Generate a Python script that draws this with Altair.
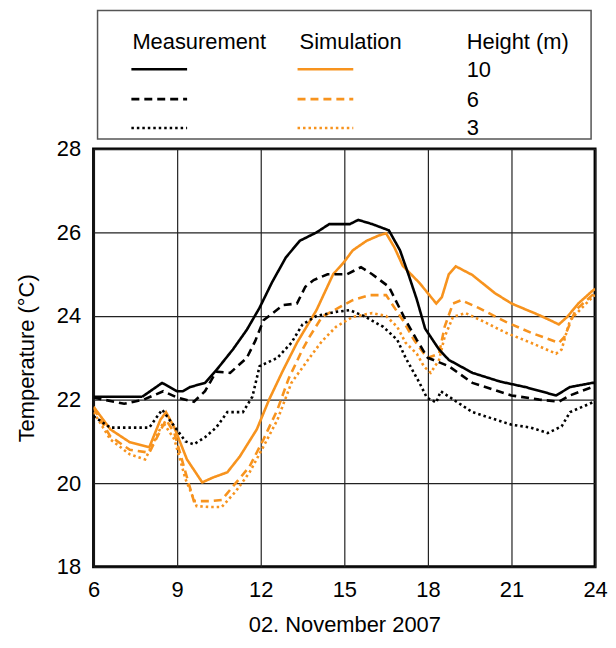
import altair as alt
import pandas as pd

# ---------------- data ----------------
x_ticks = [6, 9, 12, 15, 18, 21, 24]
y_ticks = [18, 20, 22, 24, 26, 28]
sources = ["Measurement", "Simulation"]
heights = [10, 6, 3]

hours_m10 = [6.0, 7.75, 8.46, 9.0, 9.2, 9.46, 10.0, 10.4, 11.0, 11.5, 11.96, 12.4, 12.9, 13.4, 14.0,
             14.46, 15.2, 15.5, 16.0, 16.6, 17.0, 17.3, 17.6, 17.9, 18.4, 18.75, 19.6, 20.6, 21.5,
             22.6, 23.1, 23.9, 24.0]
temp_m10 = [22.07, 22.07, 22.4, 22.2, 22.2, 22.3, 22.4, 22.7, 23.2, 23.67, 24.2, 24.8, 25.4, 25.8, 26.0,
            26.2, 26.2, 26.3, 26.2, 26.05, 25.57, 25.0, 24.4, 23.7, 23.2, 22.95, 22.64, 22.43, 22.3,
            22.1, 22.3, 22.4, 22.4]

hours_m6 = [6.0, 7.1, 7.8, 8.5, 9.0, 9.6, 10.0, 10.4, 10.9, 11.5, 11.8, 12.1, 12.8, 13.3, 13.6, 13.9,
            14.4, 15.1, 15.6, 16.0, 16.6, 16.9, 17.2, 17.6, 17.9, 18.0, 18.75, 19.6, 21.0, 22.0, 22.7,
            23.1, 23.9, 24.0]
temp_m6 = [22.05, 21.9, 22.0, 22.2, 22.05, 21.95, 22.2, 22.67, 22.64, 23.0, 23.4, 23.9, 24.26, 24.3, 24.7,
           24.86, 25.0, 25.0, 25.17, 25.0, 24.7, 24.3, 23.9, 23.43, 23.1, 23.0, 22.8, 22.4, 22.1, 22.0,
           21.95, 22.1, 22.3, 22.35]

hours_m3 = [6.0, 6.6, 7.4, 8.0, 8.46, 8.9, 9.3, 9.6, 10.0, 10.4, 10.8, 11.36, 11.7, 11.96, 12.6, 13.1,
            13.5, 14.0, 14.7, 15.2, 15.7, 16.4, 16.9, 17.2, 17.3, 17.7, 17.96, 18.3, 18.46, 19.6, 21.0,
            21.7, 22.3, 22.8, 23.1, 23.9, 24.0]
temp_m3 = [21.6, 21.33, 21.33, 21.33, 21.76, 21.36, 21.0, 20.93, 21.1, 21.33, 21.7, 21.7, 22.07, 22.8,
           23.0, 23.36, 23.8, 24.0, 24.1, 24.14, 24.0, 23.74, 23.43, 23.0, 22.88, 22.4, 22.05, 21.93,
           22.2, 21.7, 21.4, 21.33, 21.2, 21.36, 21.7, 21.93, 21.95]

hours_s10 = [6.0, 6.6, 7.3, 8.0, 8.4, 8.6, 8.9, 9.35, 9.9, 10.3, 10.8, 11.25, 11.86, 12.3, 12.8, 13.3,
             14.0, 14.6, 15.0, 15.3, 15.8, 16.25, 16.5, 16.8, 17.1, 17.7, 18.3, 18.5, 18.75, 19.0,
             19.6, 20.4, 21.0, 22.0, 22.7, 23.0, 23.4, 23.9, 24.0]
temp_s10 = [21.83, 21.29, 20.98, 20.86, 21.52, 21.7, 21.33, 20.57, 20.02, 20.14, 20.26, 20.64, 21.29,
            22.0, 22.7, 23.36, 24.14, 25.0, 25.3, 25.57, 25.8, 25.93, 25.98, 25.64, 25.2, 24.79, 24.3,
            24.45, 25.0, 25.19, 24.98, 24.55, 24.3, 24.02, 23.8, 23.98, 24.3, 24.6, 24.65]

hours_s6 = [6.0, 6.6, 7.3, 8.0, 8.6, 8.9, 9.3, 9.6, 10.2, 10.6, 11.1, 11.6, 12.1, 12.6, 13.0, 13.5,
            13.75, 14.2, 14.8, 15.3, 15.9, 16.5, 16.7, 17.1, 17.5, 17.86, 18.0, 18.4, 18.6, 18.9, 19.2,
            19.8, 20.8, 21.7, 22.7, 22.9, 23.3, 23.9, 24.0]
temp_s6 = [21.8, 21.12, 20.8, 20.73, 21.52, 21.2, 20.26, 19.57, 19.57, 19.6, 20.0, 20.4, 21.05, 21.76,
           22.5, 23.2, 23.5, 23.98, 24.2, 24.38, 24.5, 24.5, 24.3, 23.9, 23.43, 23.1, 23.0, 23.1, 23.74,
           24.3, 24.38, 24.2, 23.86, 23.6, 23.36, 23.5, 24.14, 24.5, 24.55]

hours_s3 = [6.0, 6.6, 7.3, 7.85, 8.5, 8.9, 9.3, 9.7, 10.2, 10.6, 11.1, 11.6, 12.1, 12.6, 13.1, 13.75,
            14.2, 14.7, 15.3, 16.0, 16.5, 16.9, 17.2, 17.6, 17.86, 18.1, 18.4, 18.6, 18.9, 19.35, 19.9,
            20.8, 21.7, 22.6, 22.8, 23.1, 23.9, 24.0]
temp_s3 = [21.7, 21.05, 20.69, 20.57, 21.45, 21.05, 20.1, 19.45, 19.43, 19.43, 19.8, 20.26, 20.88, 21.52,
           22.4, 23.0, 23.4, 23.74, 23.98, 24.07, 24.0, 23.74, 23.36, 23.1, 22.79, 22.64, 22.95, 23.5,
           23.98, 24.07, 23.9, 23.6, 23.36, 23.1, 23.2, 23.9, 24.45, 24.5]

series = [
    ("Simulation", 10, hours_s10, temp_s10),
    ("Simulation", 6, hours_s6, temp_s6),
    ("Simulation", 3, hours_s3, temp_s3),
    ("Measurement", 10, hours_m10, temp_m10),
    ("Measurement", 6, hours_m6, temp_m6),
    ("Measurement", 3, hours_m3, temp_m3),
]
rows = []
for src, h, xs, ys in series:
    for x, y in zip(xs, ys):
        rows.append({"hour": x, "temp": y, "source": src, "height": h, "series": f"{src} {h}"})
df = pd.DataFrame(rows)

# ---------------- styling ----------------
FONT = "Liberation Sans"
ORANGE = "#f7931e"
BLACK = "#000000"
DASHES = [[1, 0], [8, 5], [2.5, 3]]
LW = 2.6

lines = alt.Chart(df).mark_line(strokeWidth=LW, clip=True).encode(
    x=alt.X("hour:Q", scale=alt.Scale(domain=[6, 24], nice=False, zero=False),
            axis=alt.Axis(values=x_ticks, title="02. November 2007", labelPadding=13,
                          titlePadding=14, format="d", labelFlush=False)),
    y=alt.Y("temp:Q", scale=alt.Scale(domain=[18, 28], nice=False, zero=False),
            axis=alt.Axis(values=y_ticks, title="Temperature (°C)", labelPadding=13,
                          titlePadding=18, format="d", labelFlush=False)),
    color=alt.Color("source:N", scale=alt.Scale(domain=sources, range=[BLACK, ORANGE]), legend=None),
    strokeDash=alt.StrokeDash("height:N", scale=alt.Scale(domain=heights, range=DASHES), legend=None),
    detail="series:N",
)

one = pd.DataFrame({"k": [0]})


def leg_rule(x1, x2, y, color, dash):
    return alt.Chart(one).mark_rule(strokeWidth=LW, strokeDash=dash, color=color).encode(
        x=alt.value(x1), x2=alt.value(x2), y=alt.value(y))


def leg_text(s, x, y):
    return alt.Chart(one).mark_text(text=s, align="left", baseline="alphabetic", fontSize=22,
                                    font=FONT, color=BLACK).encode(x=alt.value(x), y=alt.value(y))


box = alt.Chart(one).mark_rect(fillOpacity=0, stroke="#555555", strokeWidth=1.5).encode(
    x=alt.value(4), x2=alt.value(500), y=alt.value(-139), y2=alt.value(-10))

legend_layers = [box,
                 leg_text(sources[0], 39, -100),
                 leg_text(sources[1], 207, -100),
                 leg_text("Height (m)", 375, -100)]
row_y = [-80, -50, -21]
num_base = [-72, -42, -14]
for i, h in enumerate(heights):
    legend_layers.append(leg_rule(38, 94, row_y[i], BLACK, DASHES[i]))
    legend_layers.append(leg_rule(205, 261, row_y[i], ORANGE, DASHES[i]))
    legend_layers.append(leg_text(str(h), 375, num_base[i]))

chart = alt.layer(lines, *legend_layers).properties(
    width=504, height=420,
    padding={"left": 7, "top": 0, "right": 0, "bottom": 0},
).configure_axis(
    labelFont=FONT, labelFontSize=22, labelColor=BLACK,
    titleFont=FONT, titleFontSize=22, titleFontWeight="normal", titleColor=BLACK,
    ticks=False, domain=False, grid=True, gridColor="#222222", gridWidth=1.2, gridOpacity=1,
).configure_view(stroke=BLACK, strokeWidth=3)

chart.save("out.html", embed_options={"renderer": "svg", "actions": False})
